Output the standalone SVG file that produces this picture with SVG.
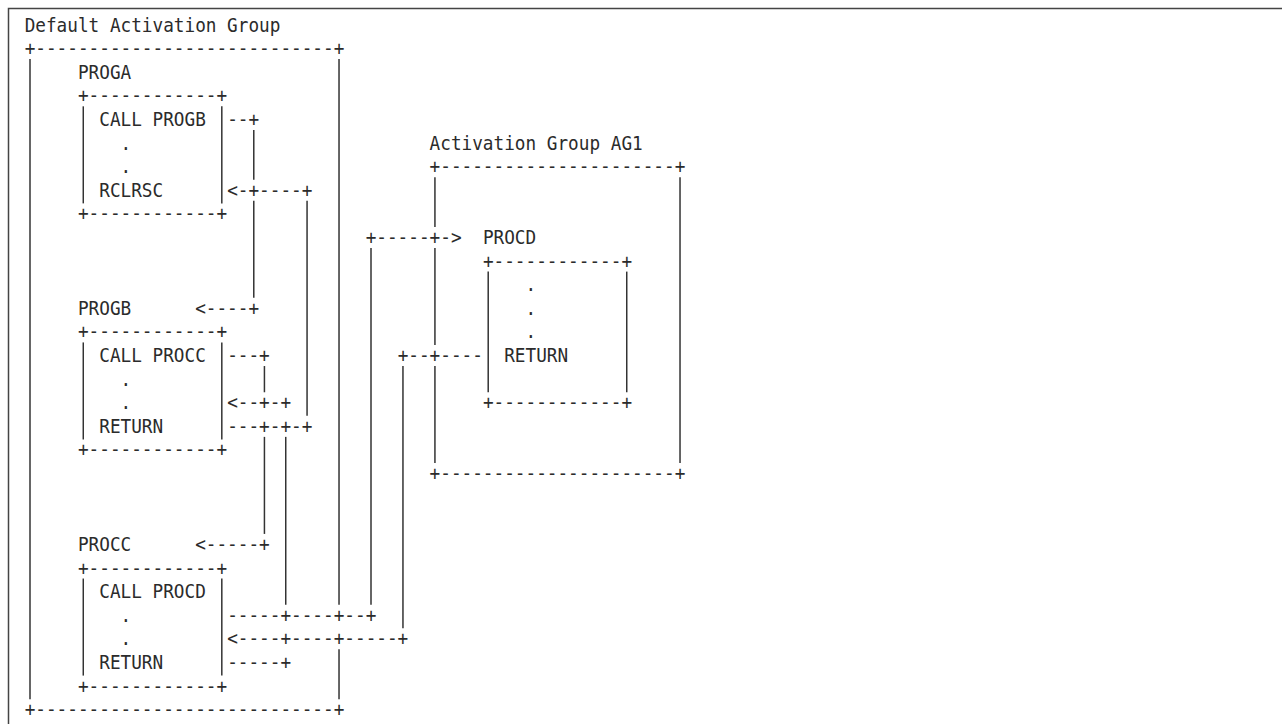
<svg xmlns="http://www.w3.org/2000/svg" width="1282" height="724" viewBox="0 0 1282 724">
<style>
.t{font-family:"DejaVu Sans Mono","Liberation Mono",monospace;font-size:19px;fill:#2b2b2b}
.b{stroke:#333;stroke-width:1.5;fill:none}
</style>
<rect x="0" y="0" width="1282" height="724" fill="#fff"/>
<rect x="8.5" y="8.5" width="1300" height="740" fill="none" stroke="#444" stroke-width="1.5"/>

<g id="default-activation-group">
<text class="t" x="24.67" y="31.5" textLength="255.74" lengthAdjust="spacingAndGlyphs">Default Activation Group</text>
<text class="t" x="24.67" y="55.11" textLength="319.68" lengthAdjust="spacingAndGlyphs">+----------------------------+</text>
<text class="t" x="24.67" y="716.19" textLength="319.68" lengthAdjust="spacingAndGlyphs">+----------------------------+</text>
<line class="b" x1="30" y1="59.11" x2="30" y2="699.19"/>
<line class="b" x1="339.02" y1="59.11" x2="339.02" y2="604.75"/>
<line class="b" x1="339.02" y1="649.36" x2="339.02" y2="699.19"/>
</g>

<g id="proga">
<text class="t" x="77.95" y="78.72" textLength="53.28" lengthAdjust="spacingAndGlyphs">PROGA</text>
<text class="t" x="77.95" y="102.33" textLength="149.18" lengthAdjust="spacingAndGlyphs">+------------+</text>
<text class="t" x="99.26" y="125.94" textLength="106.56" lengthAdjust="spacingAndGlyphs">CALL PROGB</text>
<text class="t" x="120.57" y="149.55" textLength="10.66" lengthAdjust="spacingAndGlyphs">.</text>
<text class="t" x="120.57" y="173.16" textLength="10.66" lengthAdjust="spacingAndGlyphs">.</text>
<text class="t" x="99.26" y="196.77" textLength="63.94" lengthAdjust="spacingAndGlyphs">RCLRSC</text>
<text class="t" x="77.95" y="220.38" textLength="149.18" lengthAdjust="spacingAndGlyphs">+------------+</text>
<line class="b" x1="83.28" y1="106.33" x2="83.28" y2="203.38"/>
<line class="b" x1="221.81" y1="106.33" x2="221.81" y2="203.38"/>
</g>

<g id="progb">
<text class="t" x="77.95" y="314.82" textLength="53.28" lengthAdjust="spacingAndGlyphs">PROGB</text>
<text class="t" x="77.95" y="338.43" textLength="149.18" lengthAdjust="spacingAndGlyphs">+------------+</text>
<text class="t" x="99.26" y="362.04" textLength="106.56" lengthAdjust="spacingAndGlyphs">CALL PROCC</text>
<text class="t" x="120.57" y="385.65" textLength="10.66" lengthAdjust="spacingAndGlyphs">.</text>
<text class="t" x="120.57" y="409.26" textLength="10.66" lengthAdjust="spacingAndGlyphs">.</text>
<text class="t" x="99.26" y="432.87" textLength="63.94" lengthAdjust="spacingAndGlyphs">RETURN</text>
<text class="t" x="77.95" y="456.48" textLength="149.18" lengthAdjust="spacingAndGlyphs">+------------+</text>
<line class="b" x1="83.28" y1="342.43" x2="83.28" y2="439.48"/>
<line class="b" x1="221.81" y1="342.43" x2="221.81" y2="439.48"/>
</g>

<g id="procc">
<text class="t" x="77.95" y="550.92" textLength="53.28" lengthAdjust="spacingAndGlyphs">PROCC</text>
<text class="t" x="77.95" y="574.53" textLength="149.18" lengthAdjust="spacingAndGlyphs">+------------+</text>
<text class="t" x="99.26" y="598.14" textLength="106.56" lengthAdjust="spacingAndGlyphs">CALL PROCD</text>
<text class="t" x="120.57" y="621.75" textLength="10.66" lengthAdjust="spacingAndGlyphs">.</text>
<text class="t" x="120.57" y="645.36" textLength="10.66" lengthAdjust="spacingAndGlyphs">.</text>
<text class="t" x="99.26" y="668.97" textLength="63.94" lengthAdjust="spacingAndGlyphs">RETURN</text>
<text class="t" x="77.95" y="692.58" textLength="149.18" lengthAdjust="spacingAndGlyphs">+------------+</text>
<line class="b" x1="83.28" y1="578.53" x2="83.28" y2="675.58"/>
<line class="b" x1="221.81" y1="578.53" x2="221.81" y2="675.58"/>
</g>

<g id="activation-group-ag1">
<text class="t" x="429.6" y="149.55" textLength="213.12" lengthAdjust="spacingAndGlyphs">Activation Group AG1</text>
<text class="t" x="429.6" y="173.16" textLength="255.74" lengthAdjust="spacingAndGlyphs">+----------------------+</text>
<text class="t" x="429.6" y="480.09" textLength="255.74" lengthAdjust="spacingAndGlyphs">+----------------------+</text>
<line class="b" x1="434.93" y1="177.16" x2="434.93" y2="226.99"/>
<line class="b" x1="434.93" y1="247.99" x2="434.93" y2="345.04"/>
<line class="b" x1="434.93" y1="366.04" x2="434.93" y2="463.09"/>
<line class="b" x1="680.02" y1="177.16" x2="680.02" y2="463.09"/>
</g>

<g id="procd">
<text class="t" x="482.88" y="243.99" textLength="53.28" lengthAdjust="spacingAndGlyphs">PROCD</text>
<text class="t" x="482.88" y="267.6" textLength="149.18" lengthAdjust="spacingAndGlyphs">+------------+</text>
<text class="t" x="525.5" y="291.21" textLength="10.66" lengthAdjust="spacingAndGlyphs">.</text>
<text class="t" x="525.5" y="314.82" textLength="10.66" lengthAdjust="spacingAndGlyphs">.</text>
<text class="t" x="525.5" y="338.43" textLength="10.66" lengthAdjust="spacingAndGlyphs">.</text>
<text class="t" x="504.19" y="362.04" textLength="63.94" lengthAdjust="spacingAndGlyphs">RETURN</text>
<text class="t" x="482.88" y="409.26" textLength="149.18" lengthAdjust="spacingAndGlyphs">+------------+</text>
<line class="b" x1="488.21" y1="271.6" x2="488.21" y2="392.26"/>
<line class="b" x1="626.74" y1="271.6" x2="626.74" y2="392.26"/>
</g>

<g id="connectors">
<text class="t" x="227.13" y="125.94" textLength="31.97" lengthAdjust="spacingAndGlyphs">--+</text>
<text class="t" x="227.13" y="196.77" textLength="85.25" lengthAdjust="spacingAndGlyphs">&lt;-+----+</text>
<text class="t" x="195.17" y="314.82" textLength="63.94" lengthAdjust="spacingAndGlyphs">&lt;----+</text>
<text class="t" x="227.13" y="362.04" textLength="42.62" lengthAdjust="spacingAndGlyphs">---+</text>
<text class="t" x="227.13" y="409.26" textLength="63.94" lengthAdjust="spacingAndGlyphs">&lt;--+-+</text>
<text class="t" x="227.13" y="432.87" textLength="85.25" lengthAdjust="spacingAndGlyphs">---+-+-+</text>
<text class="t" x="195.17" y="550.92" textLength="74.59" lengthAdjust="spacingAndGlyphs">&lt;-----+</text>
<text class="t" x="227.13" y="621.75" textLength="149.18" lengthAdjust="spacingAndGlyphs">-----+----+--+</text>
<text class="t" x="227.13" y="645.36" textLength="181.15" lengthAdjust="spacingAndGlyphs">&lt;----+----+-----+</text>
<text class="t" x="227.13" y="668.97" textLength="63.94" lengthAdjust="spacingAndGlyphs">-----+</text>
<text class="t" x="365.66" y="243.99" textLength="95.9" lengthAdjust="spacingAndGlyphs">+-----+-&gt;</text>
<text class="t" x="397.63" y="362.04" textLength="85.25" lengthAdjust="spacingAndGlyphs">+--+----</text>
<line class="b" x1="253.78" y1="129.94" x2="253.78" y2="179.77"/>
<line class="b" x1="253.78" y1="200.77" x2="253.78" y2="297.82"/>
<line class="b" x1="307.06" y1="200.77" x2="307.06" y2="415.87"/>
<line class="b" x1="264.43" y1="366.04" x2="264.43" y2="392.26"/>
<line class="b" x1="264.43" y1="436.87" x2="264.43" y2="533.92"/>
<line class="b" x1="285.74" y1="436.87" x2="285.74" y2="604.75"/>
<line class="b" x1="371" y1="247.99" x2="371" y2="604.75"/>
<line class="b" x1="402.96" y1="366.04" x2="402.96" y2="628.36"/>
</g>
</svg>
